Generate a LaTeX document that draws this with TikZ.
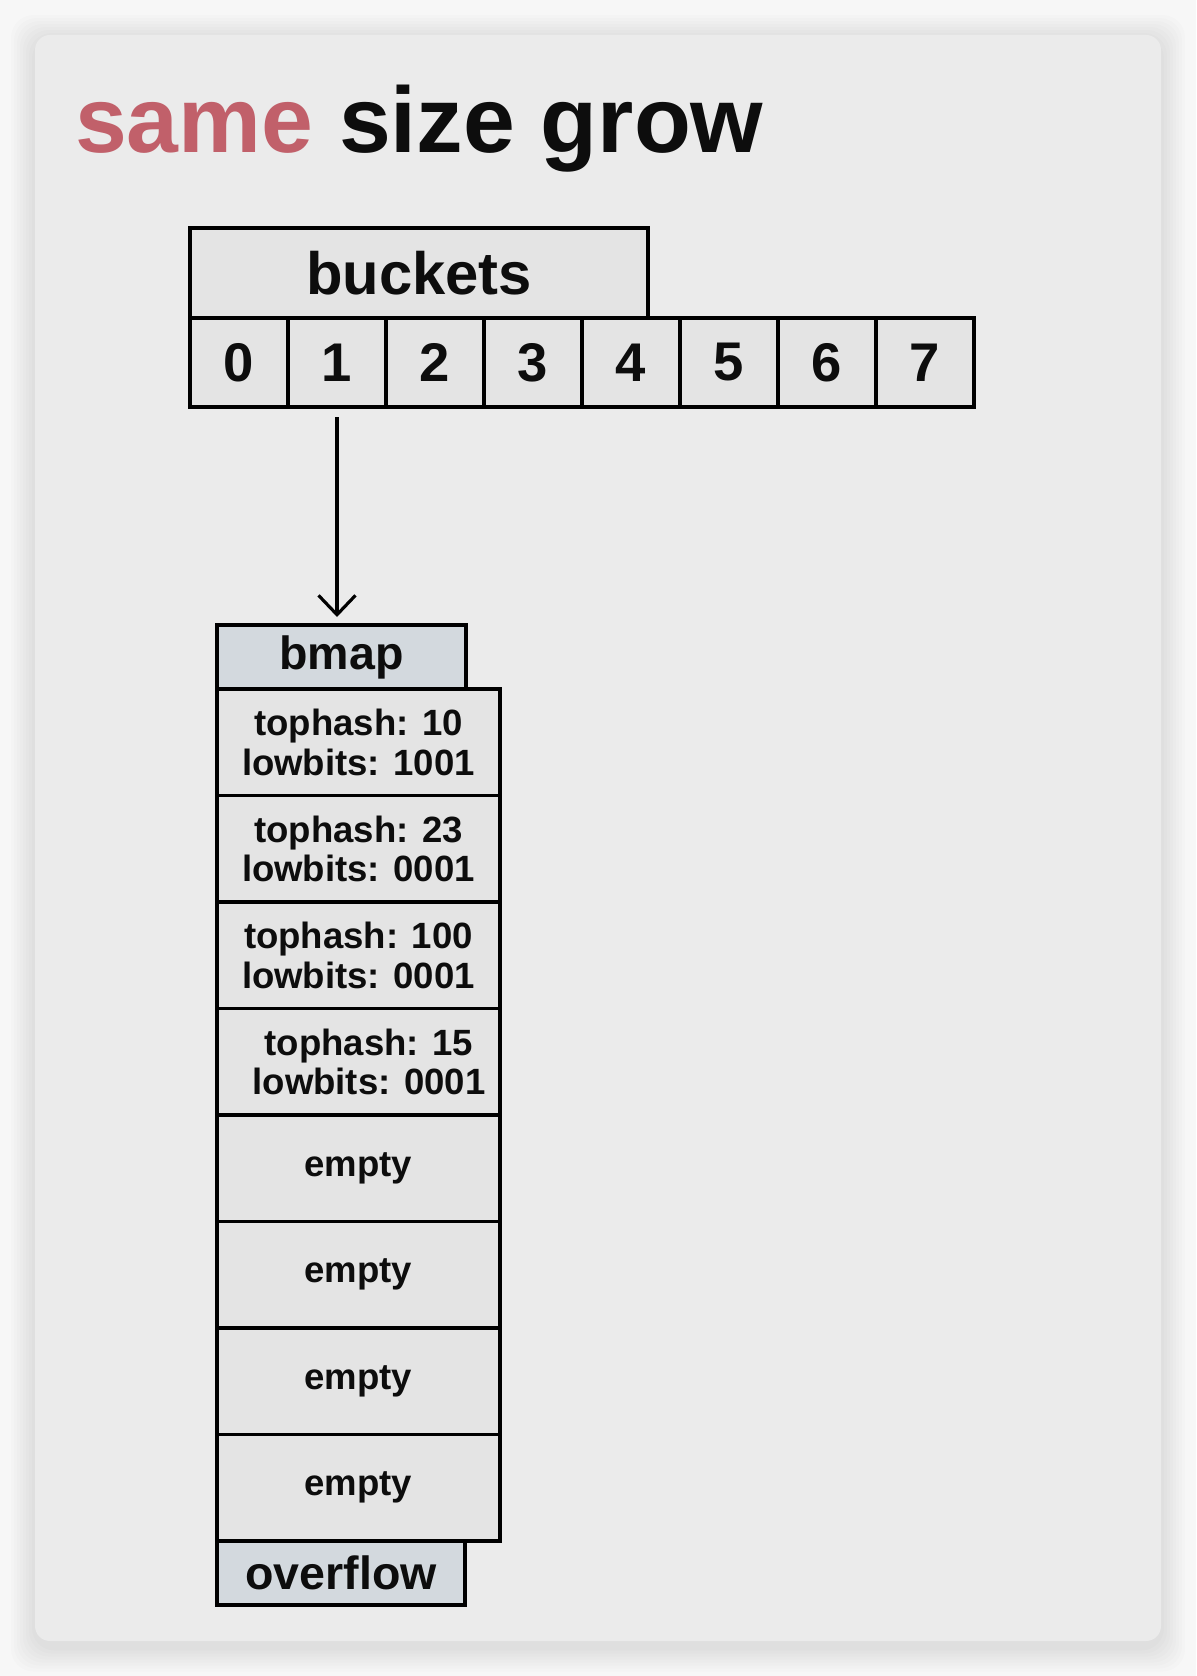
\documentclass[tikz,border=0pt]{standalone}
\usepackage{fontspec}
\setmainfont{Liberation Sans}
\usetikzlibrary{positioning,arrows.meta}

\definecolor{pagegray}{HTML}{F7F7F7}
\definecolor{cardgray}{HTML}{EBEBEB}
\definecolor{boxgray}{HTML}{E4E4E4}
\definecolor{headblue}{HTML}{D3D9DE}
\definecolor{samered}{RGB}{193,96,106}

\begin{document}
\begin{tikzpicture}
[>={Straight Barb[length=11pt,width=21pt]},
 every node/.style={outer sep=0pt,text=black!95},
 box/.style={draw,line width=1.9pt,fill=boxgray,inner sep=0pt},
 cell/.style={box,minimum width=1.96cm,minimum height=1.78cm,font=\bfseries\fontsize{31}{31}\selectfont},
 head/.style={box,fill=headblue,minimum width=4.98cm,minimum height=1.28cm,font=\bfseries\fontsize{26.5}{26.5}\selectfont},
 slot/.style={box,minimum width=5.66cm,minimum height=2.13cm,align=center,font=\bfseries\fontsize{20.8}{22.5}\selectfont}]

  \useasboundingbox (0,0) rectangle (23.92,-33.52);
  \fill[pagegray] (0,0) rectangle (23.92,-33.52);
  \foreach \s in {0.48,0.42,0.36,0.30,0.24,0.18,0.12,0.06}
    \fill[black,opacity=0.012,rounded corners=0.45cm] (0.7-\s,-0.78+\s) rectangle (23.22+\s,-32.95-\s);
  \fill[cardgray,rounded corners=0.3cm] (0.7,-0.7) rectangle (23.22,-32.82);

  \node[anchor=base west,inner sep=0pt,font=\bfseries\fontsize{53}{60}\selectfont] (title) at (1.5,-3.05)
    {\textcolor{samered}{same} size grow};

  \node[box,minimum width=9.16cm,minimum height=1.8cm,font=\bfseries\fontsize{34}{34}\selectfont,anchor=north west] (buckets) at (3.8,-4.56) {buckets};
  \node[cell,anchor=north west] (b0) at (buckets.south west) {0};
  \node[cell] (b1) [right=0pt of b0] {1};
  \node[cell] (b2) [right=0pt of b1] {2};
  \node[cell] (b3) [right=0pt of b2] {3};
  \node[cell] (b4) [right=0pt of b3] {4};
  \node[cell] (b5) [right=0pt of b4] {5};
  \node[cell] (b6) [right=0pt of b5] {6};
  \node[cell] (b7) [right=0pt of b6] {7};

  \node[head,anchor=north west] (bmap) at (4.34,-12.5) {bmap};
  \node[slot,anchor=north west] (s0) at (bmap.south west) {tophash: 10\\lowbits: 1001};
  \node[slot] (s1) [below=0pt of s0] {tophash: 23\\lowbits: 0001};
  \node[slot] (s2) [below=0pt of s1] {tophash: 100\\lowbits: 0001};
  \node[slot] (s3) [below=0pt of s2] {\hspace*{0.42cm}tophash: 15\\\hspace*{0.42cm}lowbits: 0001};
  \node[slot] (s4) [below=0pt of s3] {empty};
  \node[slot] (s5) [below=0pt of s4] {empty};
  \node[slot] (s6) [below=0pt of s5] {empty};
  \node[slot] (s7) [below=0pt of s6] {empty};
  \node[head,minimum width=4.96cm,anchor=north west] (overflow) at (s7.south west) {overflow};

  \draw[->,line width=1.8pt] ([yshift=-0.2cm]b1.south) -- ([yshift=0.16cm]b1.south |- bmap.north);
\end{tikzpicture}
\end{document}
